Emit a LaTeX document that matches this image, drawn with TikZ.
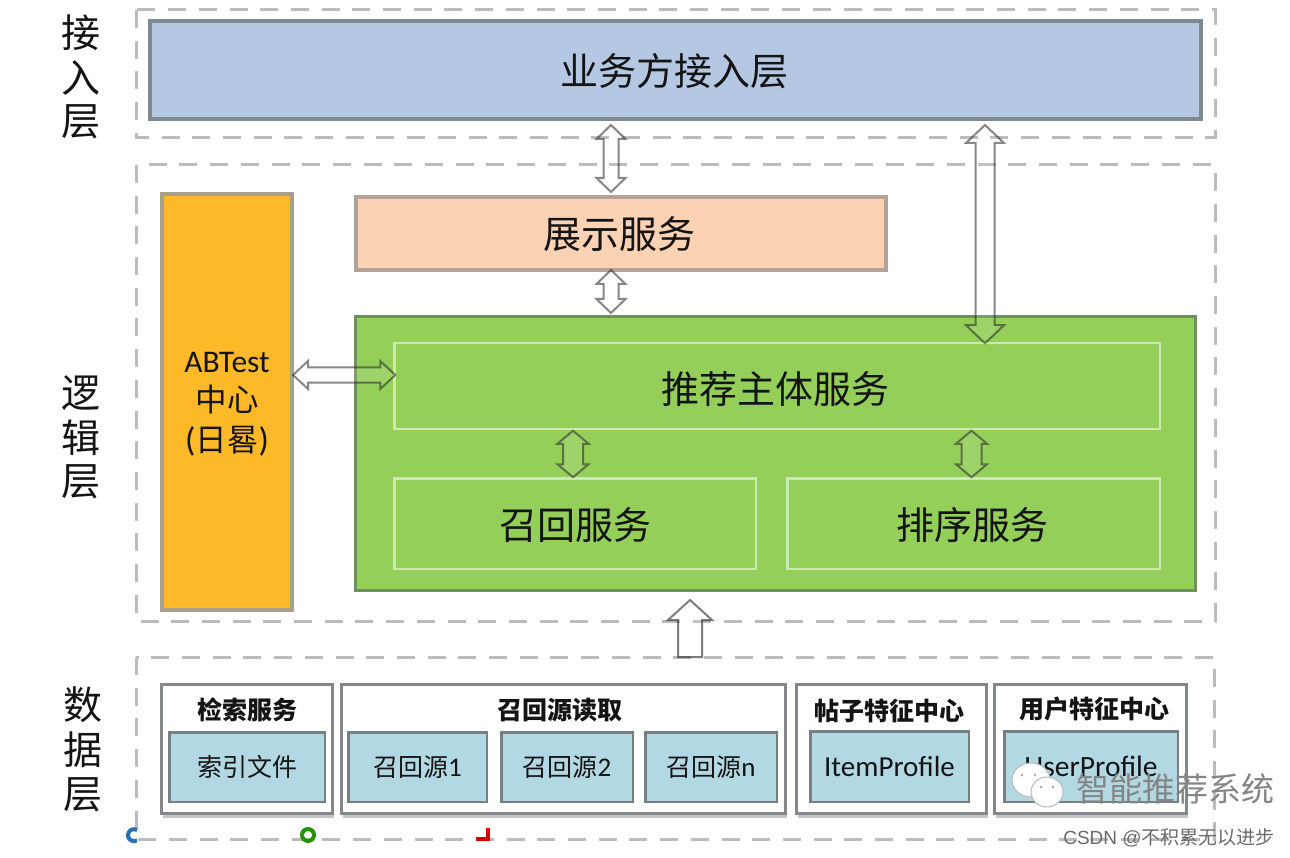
\documentclass[tikz,border=0pt]{standalone}
\usepackage{fontspec}
\usetikzlibrary{calc,shadows}
\setmainfont{Noto Sans CJK SC}
\newfontfamily\latinf{Carlito}
\newfontfamily\csdnf{Liberation Sans}
\definecolor{dashgray}{HTML}{BCBCBC}
\definecolor{topfill}{HTML}{B5C8E3}
\definecolor{topline}{HTML}{7F8992}
\definecolor{peach}{HTML}{FBD2B4}
\definecolor{peachline}{HTML}{B3A295}
\definecolor{greenfill}{HTML}{93CF59}
\definecolor{greenline}{HTML}{6F8F5F}
\definecolor{innerline}{HTML}{CBE9B0}
\definecolor{orangefill}{HTML}{FDB927}
\definecolor{orangeline}{HTML}{A9A08C}
\definecolor{cellfill}{HTML}{B2D8E4}
\definecolor{cellline}{HTML}{757F84}
\definecolor{holdline}{HTML}{85888A}
\definecolor{textdark}{HTML}{141414}
\newcommand{\nudge}[2]{\hspace*{-3pt}\raisebox{#1}[\height][\depth]{#2}}
\tikzset{
  x=1pt,y=-1pt,
  layerframe/.style={draw=dashgray,line width=3pt,dash pattern=on 18pt off 12.7pt},
  block/.style={rectangle,inner sep=0pt,outer sep=0pt,align=center,text=textdark,font=\fontsize{38}{42}\selectfont},
  sidelabel/.style={text=textdark,inner sep=0pt,font=\fontsize{39}{40}\selectfont},
  holder/.style={block,fill=white,draw=holdline,line width=3pt,drop shadow={shadow xshift=1pt,shadow yshift=-4pt,opacity=.45,fill=gray}},
  cell/.style={block,fill=cellfill,draw=cellline,line width=2.5pt,font=\fontsize{25}{28}\selectfont},
  headtext/.style={text=textdark,inner sep=0pt,font=\fontsize{25}{28}\selectfont\bfseries},
  dblarrow/.style n args={3}{draw=black!85,draw opacity=.55,line width=2pt,fill=white,fill opacity=.1,line join=miter,
    to path={
      (\tikztostart)
      -- ($(\tikztostart)!#3!(\tikztotarget)!#1!90:(\tikztotarget)$)
      -- ($(\tikztostart)!#3!(\tikztotarget)!#2!90:(\tikztotarget)$)
      -- ($(\tikztotarget)!#3!(\tikztostart)!#2!-90:(\tikztostart)$)
      -- ($(\tikztotarget)!#3!(\tikztostart)!#1!-90:(\tikztostart)$)
      -- (\tikztotarget)
      -- ($(\tikztotarget)!#3!(\tikztostart)!#1!90:(\tikztostart)$)
      -- ($(\tikztotarget)!#3!(\tikztostart)!#2!90:(\tikztostart)$)
      -- ($(\tikztostart)!#3!(\tikztotarget)!#2!-90:(\tikztotarget)$)
      -- ($(\tikztostart)!#3!(\tikztotarget)!#1!-90:(\tikztotarget)$)
      -- cycle}},
  uparrow/.style={draw=black!85,draw opacity=.6,line width=2pt,fill=white,fill opacity=.1,line join=miter,
    to path={
      ($(\tikztostart)!12pt!90:(\tikztotarget)$)
      -- ($(\tikztotarget)!20pt!(\tikztostart)!12pt!-90:(\tikztostart)$)
      -- ($(\tikztotarget)!20pt!(\tikztostart)!22pt!-90:(\tikztostart)$)
      -- (\tikztotarget)
      -- ($(\tikztotarget)!20pt!(\tikztostart)!22pt!90:(\tikztostart)$)
      -- ($(\tikztotarget)!20pt!(\tikztostart)!12pt!90:(\tikztostart)$)
      -- ($(\tikztostart)!12pt!-90:(\tikztotarget)$)
      -- cycle}},
}
\begin{document}
\begin{tikzpicture}
\useasboundingbox (0,0) rectangle (1290,858);
\fill[white] (0,0) rectangle (1290,858);
% layer frames
\draw[layerframe] (136,10) rectangle (1215,138);
\draw[layerframe] (136,165) rectangle (1215,621);
\draw[layerframe] (136,657) rectangle (1214,839);
% side labels
\node[sidelabel] (l1a) at (81,33) {接};
\node[sidelabel] (l1b) at (81,78) {入};
\node[sidelabel] (l1c) at (81,122) {层};
\node[sidelabel] (l2a) at (81,393) {逻};
\node[sidelabel] (l2b) at (81,438) {辑};
\node[sidelabel] (l2c) at (81,482) {层};
\node[sidelabel] (l3a) at (83,705) {数};
\node[sidelabel] (l3b) at (83,750) {据};
\node[sidelabel] (l3c) at (83,795) {层};
% main blocks
\node[block,fill=topfill,draw=topline,line width=4pt,minimum width=1051pt,minimum height=98pt,anchor=north west] (biz) at (150,21) {\nudge{-1pt}{业务方接入层}};
\node[block,fill=peach,draw=peachline,line width=4pt,minimum width=530pt,minimum height=73pt,anchor=north west] (show) at (356,197) {\nudge{-1pt}{展示服务}};
\node[block,fill=greenfill,draw=greenline,line width=3pt,minimum width=840pt,minimum height=274pt,anchor=north west] (green) at (355.5,316.5) {};
\node[block,draw=innerline,line width=2.5pt,minimum width=765.5pt,minimum height=85.5pt,anchor=north west] (main) at (394.25,343.25) {\nudge{-3pt}{推荐主体服务}};
\node[block,draw=innerline,line width=2.5pt,minimum width=361.5pt,minimum height=90.5pt,anchor=north west] (recall) at (394.25,478.25) {\raisebox{-2pt}[\height][\depth]{召回服务}};
\node[block,draw=innerline,line width=2.5pt,minimum width=372.5pt,minimum height=90.5pt,anchor=north west] (rank) at (787.25,478.25) {\nudge{-2pt}{排序服务}};
\node[block,fill=orangefill,draw=orangeline,line width=4pt,minimum width=130pt,minimum height=416pt,anchor=north west] (ab) at (162,194) {};
\node[block,font=\fontsize{31.5}{39.5}\selectfont] (abt) at (227,404) {{\latinf ABTest}\\中心\\{\latinf\fontsize{34}{39.5}\selectfont(}日晷{\latinf\fontsize{34}{39.5}\selectfont)}};
% data layer
\node[holder,minimum width=171pt,minimum height=129pt,anchor=north west] (h1) at (161.5,684.5) {};
\node[holder,minimum width=444pt,minimum height=129pt,anchor=north west] (h2) at (341.5,684.5) {};
\node[holder,minimum width=190pt,minimum height=129pt,anchor=north west] (h3) at (796.5,684.5) {};
\node[holder,minimum width=192pt,minimum height=129pt,anchor=north west] (h4) at (994.5,684.5) {};
\node[headtext] (t1) at (247,710) {检索服务};
\node[headtext] (t2) at (560,710) {召回源读取};
\node[headtext] (t3) at (889,711) {帖子特征中心};
\node[headtext] (t4) at (1094,709) {用户特征中心};
\node[cell,minimum width=155.5pt,minimum height=69.5pt,anchor=north west] (c1) at (169.25,732.25) {索引文件};
\node[cell,minimum width=138.5pt,minimum height=69.5pt,anchor=north west] (c2) at (348.25,732.25) {召回源{\latinf\fontsize{27}{28}\selectfont 1}};
\node[cell,minimum width=131.5pt,minimum height=69.5pt,anchor=north west] (c3) at (501.25,732.25) {召回源{\latinf\fontsize{27}{28}\selectfont 2}};
\node[cell,minimum width=131.5pt,minimum height=69.5pt,anchor=north west] (c4) at (645.25,732.25) {召回源{\latinf\fontsize{27}{28}\selectfont n}};
\node[cell,minimum width=158.5pt,minimum height=70.5pt,anchor=north west,font=\latinf\fontsize{29}{30}\selectfont] (c5) at (810.25,731.25) {ItemProfile};
\node[cell,minimum width=173.5pt,minimum height=70.5pt,anchor=north west,font=\latinf\fontsize{29.5}{30}\selectfont] (c6) at (1004.25,731.25) {UserProfile};
% connectors
\draw[dblarrow={14.5pt}{7.5pt}{14pt}] ($(show.north)+(-10,-5)$) to ($(biz.south -| show.north)+(-10,6)$);
\draw[dblarrow={14.5pt}{7.5pt}{14pt}] ($(green.north -| show.north)+(-10,-3.5)$) to ($(show.south)+(-10,0)$);
\draw[dblarrow={14pt}{7.5pt}{15pt}] ($(ab.east |- 0,375)+(1,0)$) to ($(main.west |- 0,375)+(1,0)$);
\draw[dblarrow={19pt}{9.5pt}{18pt}] (main.north -| 985,0) to ($(biz.south -| 985,0)+(0,6)$);
\draw[dblarrow={15.5pt}{10pt}{13pt}] ($(recall.north)+(-2,-1)$) to ($(main.south -| recall.north)+(-2,2)$);
\draw[dblarrow={15.5pt}{10pt}{13pt}] ($(rank.north)+(-2,-1)$) to ($(main.south -| rank.north)+(-2,2)$);
\draw[uparrow] (690,657) to ($(green.south -| 690,0)+(0,9.5)$);
% bottom-left fragments
\draw[line width=4pt,color=cyan!55!blue!85!black] (137,830) arc (60:300:6pt);
\draw[line width=4pt,color=green!50!black!85!yellow] (308,835) circle (6pt);
\draw[line width=4pt,color=red!85!black] (488,828) -- (488,839) -- (476,839);
% watermark
\begin{scope}[draw=gray!55,fill=white,line width=1pt]
\filldraw (1031,780) ellipse (19pt and 17pt);
\filldraw (1047,792) ellipse (16pt and 15pt);
\fill[gray!70] (1022,775) circle (1.3pt) (1035,775) circle (1.3pt) (1041,787) circle (1.3pt) (1053,787) circle (1.3pt);
\end{scope}
\node[inner sep=0pt,text=black!48,font=\fontsize{33}{35}\selectfont] (wm) at (1175,789) {智能推荐系统};
\node[inner sep=0pt,text=black!58,font=\csdnf\fontsize{19}{20}\selectfont] (csdn) at (1169,838) {CSDN @{\fontspec{Noto Sans CJK SC}不积累无以进步}};
\end{tikzpicture}
\end{document}
